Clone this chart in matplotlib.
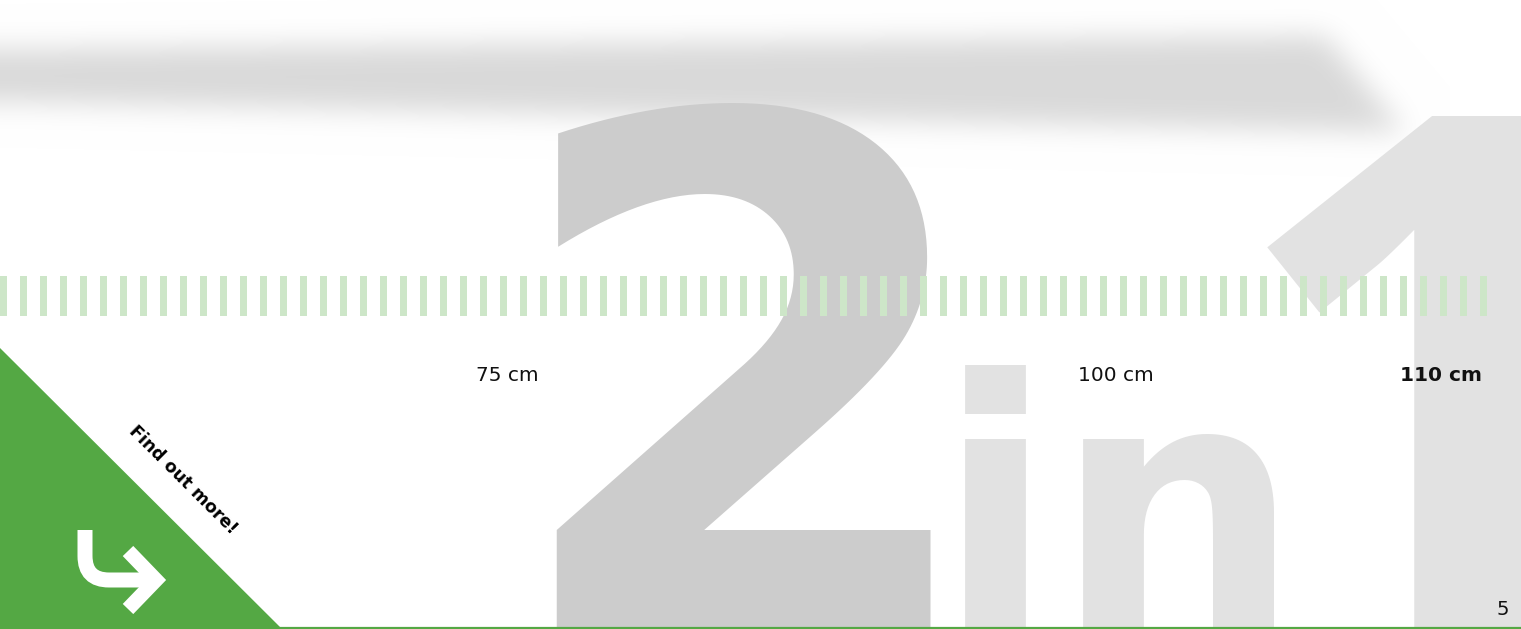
import numpy as np
import matplotlib
matplotlib.use("Agg")
import matplotlib.pyplot as plt
from matplotlib.patches import Polygon, Rectangle, PathPatch
from matplotlib.path import Path

# ruler labels
label_text = ["75 cm", "100 cm", "110 cm"]
label_x = [507, 1116, 1441]
label_bold = [False, False, True]

# big background letters
big_text = ["2", "in", "1"]
big_x = [500, 936, 1225]
big_size = [508, 250, 516]
big_font = ["DejaVu Sans", "DejaVu Sans", "Open Sans"]
big_color = ["#cccccc", "#e2e2e2", "#e2e2e2"]

page_number = "5"
green = "#54a844"
stripe_color = "#cde6c8"
n_stripes = 75

W, H = 1521, 629
fig = plt.figure(figsize=(W / 100, H / 100), dpi=100)
ax = fig.add_axes([0, 0, 1, 1])
ax.set_xlim(0, W)
ax.set_ylim(H, 0)
ax.axis("off")

# blurred grey shadow at the top
yy, xx = np.mgrid[0:200, 0:W]
band = Path([(-80, 50), (1325, 36), (1405, 132), (-80, 100)])
mask = band.contains_points(np.c_[xx.ravel() + 0.5, yy.ravel() + 0.5]).reshape(yy.shape).astype(float)
k = np.exp(-0.5 * (np.arange(-45, 46) / 14.0) ** 2)
k /= k.sum()
pad = np.pad(mask, ((0, 0), (45, 45)), mode="edge")
mask = np.array([np.convolve(r, k, mode="valid") for r in pad])
mask = np.array([np.convolve(c, k, mode="same") for c in mask.T]).T
shade = 1 - (1 - 217 / 255) * mask
ax.imshow(np.dstack([shade] * 3), extent=(0, W, 200, 0), zorder=0, interpolation="bilinear")

# 2in1
for t, x, s, f, c in zip(big_text, big_x, big_size, big_font, big_color):
    ax.text(x, 628, t, fontsize=s, color=c, fontweight="bold",
            family=f, ha="left", va="baseline", zorder=1)

# dashed ruler
for i in range(n_stripes):
    ax.add_patch(Rectangle((i * 20, 276), 7, 40, color=stripe_color, lw=0, zorder=2))

for t, x, b in zip(label_text, label_x, label_bold):
    ax.text(x, 381, t, fontsize=14.5, ha="center", va="baseline",
            fontweight="bold" if b else "normal", color="#111111", zorder=3)

# green corner
ax.add_patch(Polygon([(0, 348), (0, H), (282, H)], closed=True, color=green, lw=0, zorder=3))
ax.text(183, 480, "Find out more!", rotation=-45, rotation_mode="anchor",
        fontsize=12.5, fontweight="bold", ha="center", va="center", color="black", zorder=4)

arrow = Path([(85, 530), (85, 556), (85, 580), (109, 580), (158, 580)],
             [Path.MOVETO, Path.LINETO, Path.CURVE3, Path.CURVE3, Path.LINETO])
ax.add_patch(PathPatch(arrow, fill=False, ec="white", lw=10.8, capstyle="butt", zorder=4))
ax.plot([128, 156, 128], [551, 580, 609], color="white", lw=10.5,
        solid_joinstyle="miter", solid_capstyle="butt", zorder=4)

ax.plot([0, W], [628, 628], color=green, lw=1.6, zorder=5)
ax.text(1503, 615, page_number, fontsize=14, ha="center", va="baseline", color="#111111", zorder=5)

fig.savefig("out.png", dpi=100)
